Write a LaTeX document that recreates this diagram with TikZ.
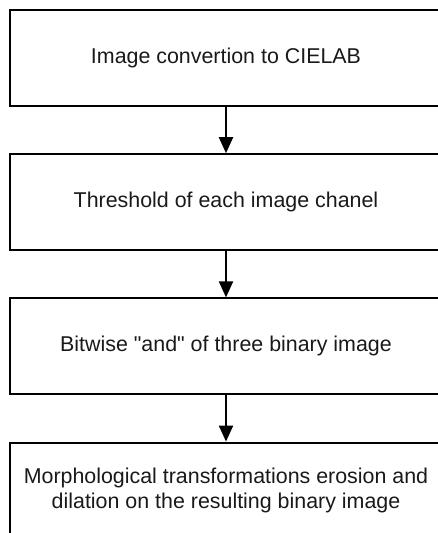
\documentclass[tikz,border=0pt]{standalone}
\usepackage{fontspec}
\setmainfont{Liberation Sans}[Ligatures=TeXOff]
\usetikzlibrary{arrows.meta}
\begin{document}
\begin{tikzpicture}[x=1pt,y=-1pt,
  stagebox/.style={draw=black, line width=2pt, minimum width=432pt, minimum height=96pt,
    inner sep=0pt, align=center, font=\fontsize{21.4}{24.5}\selectfont, text=black!90},
  flow/.style={line width=2pt, -{Triangle[width=14pt,length=16pt]}}]
  \useasboundingbox (0,0) rectangle (438,533);
  \clip (0,0) rectangle (438,533);
  \node[stagebox] (conv)   at (226,58)    {Image convertion to CIELAB};
  \node[stagebox] (thresh) at (226,202.2) {Threshold of each image chanel};
  \node[stagebox] (andop)  at (226,346.4) {Bitwise "and" of three binary image};
  \node[stagebox] (morph)  at (226,490.6) {Morphological transformations erosion and\\dilation on the resulting binary image};
  \draw[flow] (conv.south)   -- (thresh.north);
  \draw[flow] (thresh.south) -- (andop.north);
  \draw[flow] (andop.south)  -- (morph.north);
\end{tikzpicture}
\end{document}
